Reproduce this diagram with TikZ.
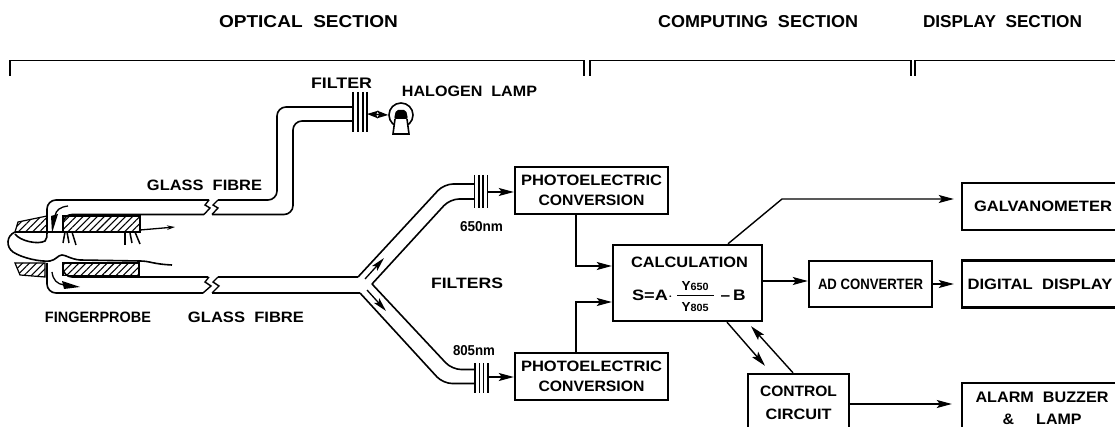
\documentclass[tikz,border=0pt]{standalone}
\usepackage{graphicx}
\usepackage{fontspec}
\setmainfont{Liberation Sans}[BoldFont={Liberation Sans Bold}]
\usetikzlibrary{arrows.meta,calc,patterns.meta}
\newcommand{\lt}[3]{\resizebox{#1pt}{#2pt}{\bfseries #3}}
\tikzset{
  box/.style={draw=black,line width=2.4pt,inner sep=0pt,align=center,fill=white},
  lbl/.style={inner sep=0pt,anchor=center},
  conn/.style={line width=1.4pt,-{Stealth[length=15pt,width=8pt,inset=3pt]}},
  fibre/.style={line width=1.6pt,rounded corners=9pt},
  brk/.style={line width=1.4pt},
  brace/.style={line width=1.1pt},
  hatchfill/.style={draw=black,line width=1.2pt,pattern={Lines[angle=45,distance=5pt,line width=1.1pt]}},
  skin/.style={line width=1.6pt,line join=round}
}
\begin{document}
\begin{tikzpicture}[x=1pt,y=-1pt]
\useasboundingbox (0,0) rectangle (1115,427);
\clip (0,0) rectangle (1115,427);
\fill[white] (0,0) rectangle (1115,427);

% section headings
\node[lbl] (hopt) at (308.5,21.5) {\lt{179}{12}{OPTICAL\ \ SECTION}};
\node[lbl] (hcom) at (758,21.5) {\lt{200}{12}{COMPUTING\ \ SECTION}};
\node[lbl] (hdis) at (1002.5,22) {\lt{159}{12}{DISPLAY\ \ SECTION}};
\draw[brace] (10,76) -- (10,60.5) -- (584,60.5) -- (584,76);
\draw[brace] (590,76) -- (590,60.5) -- (911,60.5) -- (911,76);
\draw[brace] (915,76) -- (915,60.5) -- (1120,60.5);

% boxes
\node[box,minimum width=153pt,minimum height=47pt] (pe1) at (591.5,190.5)
  {\lt{141}{10.5}{PHOTOELECTRIC}\\[8pt]\lt{106}{10.5}{CONVERSION}};
\node[box,minimum width=153pt,minimum height=47pt] (pe2) at (591.5,376.5)
  {\lt{141}{10.5}{PHOTOELECTRIC}\\[8pt]\lt{106}{10.5}{CONVERSION}};
\node[box,minimum width=149pt,minimum height=76pt] (calc) at (687.5,283) {};
\node[box,minimum width=123pt,minimum height=46pt] (ad) at (870.5,284) {\lt{105}{10.5}{AD CONVERTER}};
\node[box,minimum width=162pt,minimum height=47pt] (galv) at (1043,206.5) {\lt{138}{10.5}{GALVANOMETER}};
\node[box,minimum width=156pt,minimum height=47pt] (digi) at (1040,284) {\lt{145}{10.5}{DIGITAL\ \ DISPLAY}};
\node[box,minimum width=160pt,minimum height=50pt] (alarm) at (1042,408)
  {\lt{133}{10.5}{ALARM\ \ BUZZER}\\[10pt]\lt{79}{10.5}{\&\ \ \ \ \ LAMP}};
\node[box,minimum width=101pt,minimum height=57pt] (ctrl) at (798.5,402.5)
  {\lt{77}{10.5}{CONTROL}\\[11pt]\lt{66}{10.5}{CIRCUIT}};

% calculation text
\node[lbl] (tcalc) at (689.5,262) {\lt{117}{10.5}{CALCULATION}};
\node[lbl] (teq) at (652.5,295) {\lt{41}{10.5}{S=A$\cdot$}};
\node[lbl] (ty1) at (695,286) {\lt{27}{9}{Y{\footnotesize 650}}};
\node[lbl] (ty2) at (695,307) {\lt{27}{9}{Y{\footnotesize 805}}};
\node[lbl] (tb) at (733,295) {\lt{25}{10.5}{--\,B}};
\draw[line width=1.3pt] (ty1.south west)+(-4,5) -- ($(ty1.south east)+(5,5)$);

% connectors between boxes
\coordinate (gelbow) at (782,199);
\draw[conn] ($(pe1.south)+(-15.5,0)$) |- ($(calc.west)+(0,-17)$);
\draw[conn] ($(pe2.north)+(-15.5,0)$) |- ($(calc.west)+(0,19)$);
\draw[conn] ($(calc.north)+(40.5,0)$) -- (gelbow) -- ($(galv.west)+(-7,-7.5)$);
\draw[conn] ($(calc.east)+(0,-2)$) -- ($(ad.west)+(0,-3)$);
\draw[conn] (ad.east) -- ($(digi.west)+(-7,0)$);
\draw[conn] ($(calc.south)+(39.5,0)$) -- ($(ctrl.north)+(-33.5,-7)$);
\draw[conn] ($(ctrl.north)+(-5.5,0)$) -- ($(calc.south)+(63.5,4)$);
\draw[conn] ($(ctrl.east)+(0,1.5)$) -- ($(alarm.west)+(-9,-4)$);

% upper glass fibre
\draw[fibre] (47,233) -- (47,200) -- (209,200);
\draw[fibre] (218,200) -- (277,200) -- (277,107) -- (353,107);
\draw[fibre] (63,232) -- (63,214.5) -- (204,214.5);
\draw[fibre] (212,214.5) -- (293,214.5) -- (293,121) -- (353,121);
\draw[brk] (209,200) -- (205,205) -- (210,208) -- (204,214.5);
\draw[brk] (218,200) -- (213,205) -- (218,208) -- (212,214.5);

% filter and lamp
\foreach \px in {353,358,363,367}
  \draw[line width=1.9pt] (\px,92) -- (\px,132);
\coordinate (fupper) at (367,114);
\node[draw,circle,line width=1.6pt,minimum size=24pt,inner sep=0pt] (lamp) at (401,115) {};
\draw[line width=1.4pt,{Stealth[length=11pt,width=7.5pt,inset=2pt]}-{Stealth[length=11pt,width=7.5pt,inset=2pt]}] (fupper) -- (lamp.west);
\draw[line width=1.6pt,fill=white] (395,119) -- (393,134) -- (409,134) -- (407,119);
\fill[black,rounded corners=2pt] (394,119) -- (396,110) -- (406,110) -- (408,119) -- cycle;

% lower glass fibre and Y branch
\draw[fibre] (47,263) -- (47,293) -- (203,293);
\draw[fibre] (63,263) -- (63,277) -- (208,277);
\draw[brk] (209,277) -- (205,282) -- (211,286) -- (203,293);
\draw[brk] (218,277) -- (213,282) -- (219,286) -- (212,293);
\draw[line width=1.6pt] (218,277) -- (358,277);
\draw[line width=1.6pt] (212,293) -- (360,293);
\draw[fibre] (358,277) -- (444,184) -- (474,184);
\draw[fibre] (372,284) -- (450,199) -- (474,199);
\draw[fibre] (372,284) -- (452,369.5) -- (474,369.5);
\draw[fibre] (360,293) -- (443,383.5) -- (474,383.5);
\draw[line width=1.3pt,-{Stealth[length=14pt,width=7pt,inset=3pt]}] (365,279) -- (384,258);
\draw[line width=1.3pt,-{Stealth[length=14pt,width=7pt,inset=3pt]}] (367,290) -- (386,311);

% branch filters
\foreach \px in {474.5,479,483,487.5} \draw[line width=1.9pt] (\px,175) -- (\px,208);
\foreach \px in {475,479.5,483.5,488} \draw[line width=1.9pt] (\px,363) -- (\px,393);
\coordinate (ftop) at (488,192);
\coordinate (fbot) at (488,377);
\draw[conn] (ftop) -- (pe1.west |- ftop);
\draw[conn] (fbot) -- (pe2.west |- fbot);

% finger probe
\draw[hatchfill] (18,222) -- (47,216) -- (47,232) -- (15,232) -- cycle;
\draw[hatchfill] (63,216) -- (140,216) -- (140,232) -- (63,232) -- cycle;
\draw[hatchfill] (15,263) -- (45,263) -- (45,277) -- (20,275) -- cycle;
\draw[hatchfill] (63,263) -- (139,263) -- (139,275.5) -- (63,275.5) -- cycle;
\draw[line width=2pt] (15,232) -- (140,232);
\draw[line width=1.3pt,-{Stealth[length=8pt,width=4.5pt]}] (140,230) -- (175,227);
\draw[skin] (15,232) .. controls (6,236) and (6,247) .. (13,252)
  .. controls (22,258) and (40,262) .. (50,261)
  .. controls (56,260) and (58,255) .. (62,255)
  .. controls (66,255) and (70,259) .. (80,260)
  -- (140,261) .. controls (150,261) and (152,264) .. (172,265);
\draw[skin] (15,234) .. controls (20,241) and (38,245) .. (45,241)
  .. controls (47,239) and (47,236) .. (47,233);
\foreach \xa/\xb/\xc/\xd in {65/232/63/243,67/232/69/243,72/232/76/245,125/233/125/245,130/233/132/243,135/232/140/244}
  \draw[line width=1.5pt] (\xa,\xb) -- (\xc,\xd);
% light arrows in the probe
\draw[line width=1.3pt] (68,206) .. controls (60,207) and (56,210) .. (55,216);
\fill[black] (51,216) -- (58,214) -- (52,233) -- cycle;
\draw[line width=1.3pt] (52,272) .. controls (53,280) and (57,284) .. (64,285);
\fill[black] (62,281) -- (80,287) -- (64,289) -- cycle;

% labels
\node[lbl] (tflt) at (341.5,83) {\lt{61}{10.5}{FILTER}};
\node[lbl] (tlamp) at (469.5,91) {\lt{135}{10.5}{HALOGEN\ \ LAMP}};
\node[lbl] (tgf1) at (204.5,185) {\lt{115}{10.5}{GLASS\ \ FIBRE}};
\node[lbl] (tfp) at (98,317) {\lt{106}{10.5}{FINGERPROBE}};
\node[lbl] (tgf2) at (246,317) {\lt{116}{10.5}{GLASS\ \ FIBRE}};
\node[lbl] (t650) at (481.5,227) {\lt{43}{10}{650nm}};
\node[lbl] (t805) at (474,351) {\lt{42}{10}{805nm}};
\node[lbl] (tflts) at (467,283) {\lt{72}{10.5}{FILTERS}};
\end{tikzpicture}
\end{document}
